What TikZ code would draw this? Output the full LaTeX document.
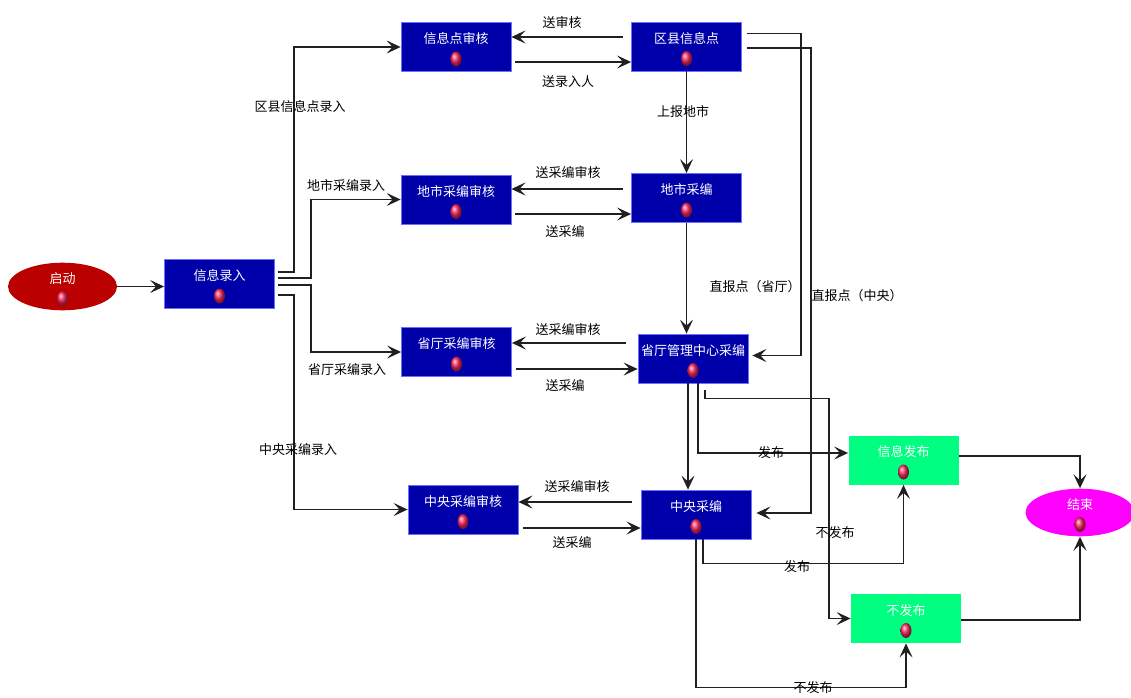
\documentclass[tikz,border=0pt]{standalone}
\usepackage{fontspec}
\setmainfont{Noto Sans CJK SC}
\usetikzlibrary{arrows.meta,positioning,calc,shapes.geometric}
\definecolor{BoxBlue}{HTML}{0000AA}
\definecolor{EdgeBlue}{HTML}{7070FF}
\definecolor{PubGreen}{HTML}{00FF80}
\definecolor{EndPink}{HTML}{FF00FF}
\definecolor{StartRed}{HTML}{BB0000}
\definecolor{BallRed}{HTML}{FF2860}
\definecolor{LineGray}{HTML}{202020}
\newcommand{\cjksize}{\fontsize{13pt}{13pt}\selectfont}

\begin{document}
\begin{tikzpicture}[x=1pt,y=-1pt,
  proc/.style={rectangle,draw=EdgeBlue,fill=BoxBlue,line width=0.8pt,minimum width=110pt,minimum height=49pt,
    inner xsep=1pt,text=white,font=\cjksize,text height=10pt,text depth=17pt},
  pub/.style={proc,draw=none,fill=PubGreen},
  term/.style={proc,ellipse,draw=none,minimum width=109pt,minimum height=47pt},
  flow/.style={-{Stealth[length=14pt,width=13pt,inset=6pt]},line width=1.6pt,LineGray},
  note/.style={font=\cjksize,text=black,inner sep=0pt}
]
\useasboundingbox (0,0) rectangle (1131,697);

\node[term,fill=StartRed] (start) at (62.5,286.5) {启动};
\node[proc] (entry) at (219.5,284) {信息录入};
\node[proc] (ptaudit) at (456,47) {信息点审核};
\node[proc] (county) at (686.5,46.5) {区县信息点};
\node[proc] (cityaudit) at (456,199.5) {地市采编审核};
\node[proc] (city) at (686.5,198) {地市采编};
\node[proc] (provaudit) at (456.5,352) {省厅采编审核};
\node[proc] (prov) at (693,358.5) {省厅管理中心采编};
\node[proc] (centaudit) at (463,509.5) {中央采编审核};
\node[proc] (cent) at (696,514.5) {中央采编};
\node[pub] (publish) at (903.5,460) {信息发布};
\node[pub] (nopub) at (906,618.5) {不发布};
\node[term,fill=EndPink] (finish) at (1080,512.5) {结束};

\foreach \n in {start,entry,ptaudit,county,cityaudit,city,provaudit,prov,centaudit,cent,publish,nopub,finish}
  \shade[ball color=BallRed] ([yshift=-12pt]\n.center) ellipse (5.5pt and 7.5pt);

\draw[flow] (start.east) -- (entry.west |- start.east);

\draw[flow] ([xshift=3pt,yshift=12pt]entry.east) -- ++(16,0) |- (ptaudit);
\draw[flow] ([xshift=3pt,yshift=6pt]entry.east) -- ++(33,0) |- (cityaudit);
\draw[flow] ([xshift=3pt,yshift=-1pt]entry.east) -- ++(33,0) |- (provaudit);
\draw[flow] ([xshift=3pt,yshift=-11pt]entry.east) -- ++(16,0) |- (centaudit);
\node[note] at (300,107) {区县信息点录入};
\node[note] at (346,186) {地市采编录入};
\node[note] at (347,370) {省厅采编录入};
\node[note] at (298,450) {中央采编录入};

\draw[flow] (county.west |- 0,37) ++(-8,0) -- (ptaudit.east |- 0,37);
\draw[flow] (ptaudit.east |- 0,62) ++(4,0) -- (county.west |- 0,62);
\node[note] at (562,23) {送审核};
\node[note] at (568,82) {送录入人};

\draw[flow] (city.west |- 0,189) ++(-8,0) -- (cityaudit.east |- 0,189);
\draw[flow] (cityaudit.east |- 0,214) ++(4,0) -- (city.west |- 0,214);
\node[note] at (568,173) {送采编审核};
\node[note] at (565,232) {送采编};

\draw[flow] (prov.west |- 0,343) ++(-12,0) -- (provaudit.east |- 0,343);
\draw[flow] (provaudit.east |- 0,369) ++(4,0) -- (prov.west |- 0,369);
\node[note] at (568,330) {送采编审核};
\node[note] at (565,386) {送采编};

\draw[flow] (cent.west |- 0,502) ++(-9,0) -- (centaudit.east |- 0,502);
\draw[flow] (centaudit.east |- 0,528) ++(5,0) -- (cent.west |- 0,528);
\node[note] at (577,487) {送采编审核};
\node[note] at (572,543) {送采编};

\draw[flow] (county) -- (city);
\node[note] at (683,112) {上报地市};
\draw[flow] (city.south) -- (city.south |- prov.north);
\draw[flow] ([xshift=5pt,yshift=13pt]county.east) -- ++(54,0) |- ([xshift=4pt,yshift=3pt]prov.east);
\draw[flow] ([xshift=5pt,yshift=-1.5pt]county.east) -- ++(64,0) |- ([xshift=5pt,yshift=1.5pt]cent.east);
\node[note] at (755,287) {直报点（省厅）};
\node[note] at (857,296) {直报点（中央）};

\draw[flow] ([xshift=-5pt]prov.south) -- ([xshift=-5pt]prov.south |- cent.north);
\draw[flow] ([xshift=5pt]prov.south) |- ([yshift=7pt]publish.west);
\node[note] at (771,453) {发布};
\draw[flow] ([xshift=12pt,yshift=-7pt]prov.south) -- ++(0,8) -- ++(124,0) |- (nopub);
\node[note] at (835,533) {不发布};

\draw[flow] ([xshift=7pt]cent.south) -- ++(0,24) -| (publish);
\node[note] at (797,567) {发布};
\draw[flow] (cent.south) -- ++(0,148) -| (nopub);
\node[note] at (813,688) {不发布};

\draw[flow] ([yshift=4pt]publish.east) -| (finish);
\draw[flow] ([yshift=-1.5pt]nopub.east) -| (finish);
\end{tikzpicture}
\end{document}
